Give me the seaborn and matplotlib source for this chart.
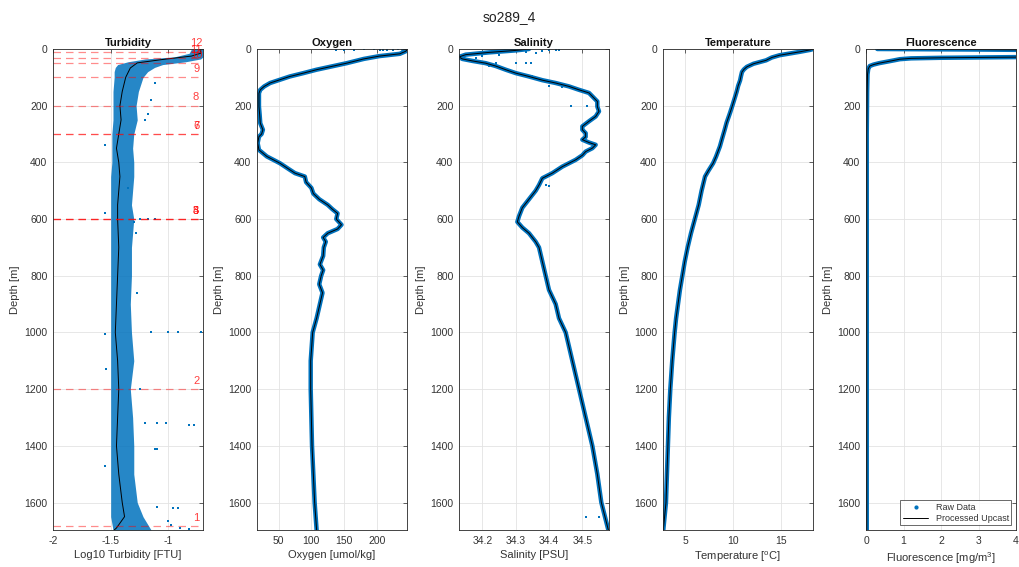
import numpy as np
import pandas as pd
import matplotlib
matplotlib.use("Agg")
import matplotlib.pyplot as plt
from matplotlib.lines import Line2D
import seaborn as sns

# ---------------- profile data (depth in m) ----------------
station = "so289_4"
max_depth = 1697

# Turbidity: raw data envelope, processed upcast, scattered raw points
turb_depth = [0, 15, 28, 35, 45, 55, 65, 80, 100, 150, 200, 250, 300, 350, 400, 450, 500,
              550, 600, 650, 700, 800, 900, 1000, 1100, 1200, 1300, 1400, 1500, 1600, 1650, 1697]
turb_lo = [-0.80, -0.82, -0.95, -1.20, -1.35, -1.44, -1.46, -1.47, -1.47, -1.48, -1.48, -1.48,
           -1.49, -1.49, -1.49, -1.50, -1.50, -1.50, -1.50, -1.50, -1.50, -1.50, -1.50, -1.50,
           -1.50, -1.50, -1.50, -1.50, -1.50, -1.50, -1.50, -1.48]
turb_hi = [-0.70, -0.70, -0.70, -0.72, -0.85, -1.05, -1.12, -1.18, -1.22, -1.26, -1.28, -1.27,
           -1.30, -1.31, -1.30, -1.30, -1.31, -1.32, -1.30, -1.31, -1.32, -1.32, -1.33, -1.32,
           -1.30, -1.33, -1.31, -1.30, -1.30, -1.27, -1.22, -1.15]
turb_proc_depth = [0, 15, 25, 37, 49, 67, 100, 150, 200, 250, 300, 350, 400, 450, 500, 550, 600,
                   700, 800, 900, 1000, 1100, 1200, 1300, 1400, 1500, 1600, 1650, 1690, 1697]
turb_proc = [-0.72, -0.72, -0.80, -1.05, -1.27, -1.33, -1.37, -1.40, -1.42, -1.41, -1.43, -1.45,
             -1.43, -1.42, -1.43, -1.44, -1.44, -1.43, -1.44, -1.45, -1.46, -1.44, -1.43, -1.44,
             -1.45, -1.43, -1.40, -1.38, -1.45, -1.47]
turb_pt_depth = [120, 180, 230, 250, 340, 490, 580, 600, 600, 600, 610, 650, 860, 1000, 1000, 1000,
                 1000, 1005, 1130, 1200, 1320, 1320, 1320, 1325, 1325, 1410, 1410, 1470, 1615,
                 1618, 1618, 1665, 1680, 1690, 1692]
turb_pt_val = [-1.12, -1.15, -1.18, -1.20, -1.55, -1.35, -1.55, -1.25, -1.18, -1.12, -1.30, -1.28,
               -1.27, -1.15, -1.00, -0.92, -0.72, -1.55, -1.54, -1.25, -1.20, -1.10, -1.02, -0.82,
               -0.78, -1.12, -1.10, -1.55, -1.10, -0.96, -0.92, -1.00, -0.98, -0.90, -0.82]

# Bottle firing depths and their numbers
bottle_no = [1, 2, 3, 4, 5, 6, 7, 8, 9, 10, 11, 12]
bottle_depth = [1684, 1200, 600, 600, 600, 300, 300, 200, 100, 50, 32, 10]

# Oxygen [umol/kg]
oxy_depth = [0, 3, 8, 17, 25, 35, 50, 62, 73, 85, 97, 110, 120, 132, 144, 156, 168, 185, 203,
             230, 262, 285, 300, 309, 332, 356, 379, 403, 426, 438, 450, 470, 490, 510, 530, 550,
             565, 580, 600, 620, 635, 650, 665, 680, 700, 730, 760, 780, 800, 830, 860, 900, 950,
             1000, 1100, 1200, 1300, 1400, 1500, 1600, 1697]
oxy_val = [240, 246, 244, 235, 204, 180, 154, 130, 108, 88, 67, 50, 37, 28, 22, 20, 20, 20, 20,
           21, 22, 26, 24, 20, 18, 20, 32, 52, 67, 75, 90, 92, 100, 103, 112, 125, 132, 140, 138,
           146, 140, 125, 118, 122, 119, 118, 113, 118, 115, 112, 117, 113, 108, 102, 99, 99, 100,
           101, 103, 105, 108]
oxy_pt_depth = [1, 2, 2, 3, 1, 4, 2, 2, 3, 1]
oxy_pt_val = [195, 205, 215, 225, 232, 210, 138, 150, 165, 180]

# Salinity [PSU]
sal_depth = [0, 5, 12, 20, 28, 35, 42, 50, 60, 73, 85, 97, 110, 120, 132, 144, 155, 167, 185,
             203, 220, 238, 255, 273, 285, 297, 310, 320, 330, 338, 350, 362, 375, 391, 415, 438,
             456, 480, 500, 530, 560, 590, 610, 630, 650, 680, 700, 750, 800, 850, 900, 950, 1000,
             1100, 1200, 1300, 1400, 1500, 1600, 1697]
sal_val = [34.34, 34.30, 34.22, 34.15, 34.13, 34.14, 34.17, 34.21, 34.24, 34.27, 34.30, 34.34,
           34.38, 34.42, 34.46, 34.49, 34.52, 34.53, 34.545, 34.545, 34.55, 34.54, 34.52, 34.50,
           34.50, 34.51, 34.51, 34.50, 34.52, 34.54, 34.53, 34.51, 34.50, 34.48, 34.44, 34.41,
           34.38, 34.37, 34.36, 34.34, 34.32, 34.31, 34.305, 34.32, 34.34, 34.36, 34.37, 34.38,
           34.39, 34.40, 34.42, 34.43, 34.45, 34.47, 34.49, 34.51, 34.53, 34.545, 34.557, 34.578]
sal_pt_depth = [2, 3, 5, 8, 15, 10, 20, 25, 30, 45, 48, 50, 50, 50, 60, 90, 95, 130, 135, 200,
                200, 478, 480, 485, 1650, 1650]
sal_pt_val = [34.40, 34.43, 34.42, 34.38, 34.36, 34.33, 34.25, 34.20, 34.18, 34.20, 34.24, 34.30,
              34.33, 34.345, 34.22, 34.33, 34.35, 34.40, 34.44, 34.465, 34.515, 34.37, 34.39,
              34.40, 34.51, 34.55]

# Temperature [degC]
temp_depth = [0, 3, 10, 22, 30, 40, 52, 63, 72, 81, 95, 111, 130, 150, 167, 200, 226, 260, 285,
              320, 344, 380, 403, 430, 450, 500, 550, 600, 650, 700, 750, 800, 850, 900, 950,
              1000, 1100, 1200, 1300, 1400, 1500, 1600, 1697]
temp_val = [18.3, 18.0, 16.9, 14.8, 14.0, 13.4, 12.1, 11.4, 11.1, 10.9, 10.8, 10.7, 10.5, 10.35,
            10.2, 9.9, 9.65, 9.3, 9.1, 8.8, 8.6, 8.2, 7.9, 7.4, 7.06, 6.7, 6.4, 6.0, 5.6, 5.25,
            4.95, 4.7, 4.45, 4.25, 4.05, 3.9, 3.65, 3.45, 3.3, 3.2, 3.1, 3.0, 2.72]

# Fluorescence [mg/m^3]
fl_depth = [0, 2, 4, 8, 15, 22, 28, 31, 33, 36, 40, 45, 50, 55, 60, 70, 90, 150, 300, 600, 1000,
            1400, 1697]
fl_val = [0.3, 3.0, 5.0, 6.0, 6.0, 5.5, 4.5, 2.0, 1.2, 0.9, 0.75, 0.55, 0.35, 0.2, 0.1, 0.06,
          0.04, 0.03, 0.02, 0.02, 0.02, 0.02, 0.02]
fl_pt_depth = [30, 30, 31, 30, 31, 29, 2, 1, 2]
fl_pt_val = [1.5, 2.0, 2.5, 3.0, 3.3, 3.6, 1.0, 1.8, 2.5]

# ---------------- styling ----------------
sns.set_theme(style="white")
plt.rcParams["font.family"] = ["Liberation Sans", "DejaVu Sans"]
plt.rcParams["axes.unicode_minus"] = False
plt.rcParams["mathtext.fontset"] = "custom"
plt.rcParams["mathtext.rm"] = "Liberation Sans"
plt.rcParams["mathtext.it"] = "Liberation Sans:italic"

RAW = "#0072BD"
TXT = "#333333"
EDGE = "#262626"
GRID = "#e3e3e3"

W, H = 1019, 567
fig = plt.figure(figsize=(W / 100, H / 100), dpi=100)
fig.suptitle(station, y=1 - 17 / H, fontsize=10, color="#222222", va="center")

lefts = [53, 257, 459, 663, 866]
ax_w, ax_top, ax_bot = 150, 49, 530
axes = [fig.add_axes([l / W, (H - ax_bot) / H, ax_w / W, (ax_bot - ax_top) / H]) for l in lefts]


def style_axis(ax, title, xlabel, xlim, xticks, xticklabels):
    ax.set_ylim(max_depth, 0)
    ax.set_xlim(*xlim)
    ax.set_xticks(xticks)
    ax.set_xticklabels(xticklabels)
    ax.set_yticks(range(0, 1601, 200))
    ax.set_title(title, fontsize=8, fontweight="bold", color="#111111", pad=2)
    ax.set_xlabel(xlabel, fontsize=8, color=TXT, labelpad=3)
    ax.set_ylabel("Depth [m]", fontsize=8, color=TXT, labelpad=3)
    ax.grid(True, color=GRID, lw=0.6)
    ax.set_axisbelow(True)
    ax.tick_params(direction="in", length=3, width=0.5, colors=EDGE, labelcolor=TXT,
                   labelsize=7.5, top=True, right=True, pad=4)
    for s in ax.spines.values():
        s.set_color(EDGE)
        s.set_linewidth(0.6)


def profile(ax, vals, depths, raw_lw=3.2):
    df = pd.DataFrame({"v": vals, "d": depths})
    sns.lineplot(data=df, x="v", y="d", orient="y", sort=False, estimator=None,
                 color=RAW, lw=raw_lw, ax=ax, solid_joinstyle="round")
    sns.lineplot(data=df, x="v", y="d", orient="y", sort=False, estimator=None,
                 color="black", lw=0.7, ax=ax)


def points(ax, vals, depths):
    sns.scatterplot(x=vals, y=depths, color=RAW, s=3, marker="s", linewidth=0, ax=ax)


# Turbidity
ax = axes[0]
ax.fill_betweenx(turb_depth, turb_lo, turb_hi, color=RAW, alpha=0.85, lw=0)
points(ax, turb_pt_val, turb_pt_depth)
sns.lineplot(x=turb_proc, y=turb_proc_depth, orient="y", sort=False, estimator=None,
             color="black", lw=0.7, ax=ax)
for n, d in zip(bottle_no, bottle_depth):
    ax.axhline(d, color="red", alpha=0.45, lw=0.9, ls=(0, (6, 4)))
    ax.text(-0.76, d - 30, str(n), color="red", alpha=0.75, fontsize=8,
            ha="center", va="center", clip_on=False)
style_axis(ax, "Turbidity", "Log10 Turbidity [FTU]", (-2, -0.7),
           [-2, -1.5, -1], ["-2", "-1.5", "-1"])

# Oxygen
ax = axes[1]
points(ax, oxy_pt_val, oxy_pt_depth)
profile(ax, oxy_val, oxy_depth)
style_axis(ax, "Oxygen", "Oxygen [umol/kg]", (17, 246), [50, 100, 150, 200],
           ["50", "100", "150", "200"])

# Salinity
ax = axes[2]
points(ax, sal_pt_val, sal_pt_depth)
profile(ax, sal_val, sal_depth)
style_axis(ax, "Salinity", "Salinity [PSU]", (34.13, 34.58), [34.2, 34.3, 34.4, 34.5],
           ["34.2", "34.3", "34.4", "34.5"])

# Temperature
ax = axes[3]
profile(ax, temp_val, temp_depth)
style_axis(ax, "Temperature", r"Temperature [$^{\mathrm{o}}$C]", (2.69, 18.28), [5, 10, 15],
           ["5", "10", "15"])

# Fluorescence
ax = axes[4]
points(ax, fl_pt_val, fl_pt_depth)
profile(ax, fl_val, fl_depth)
style_axis(ax, "Fluorescence", r"Fluorescence [mg/m$^{3}$]", (0, 4), [0, 1, 2, 3, 4],
           ["0", "1", "2", "3", "4"])
handles = [Line2D([], [], marker=".", ls="", color=RAW, markersize=4, label="Raw Data"),
           Line2D([], [], color="black", lw=0.7, label="Processed Upcast")]
leg = ax.legend(handles=handles, loc="lower right", fontsize=6.5, frameon=True, fancybox=False,
                edgecolor=EDGE, borderpad=0.3, labelspacing=0.2, handlelength=2.8,
                borderaxespad=0.5)
leg.get_frame().set_linewidth(0.6)
for t in leg.get_texts():
    t.set_color(TXT)

fig.savefig("out.png", dpi=100)
